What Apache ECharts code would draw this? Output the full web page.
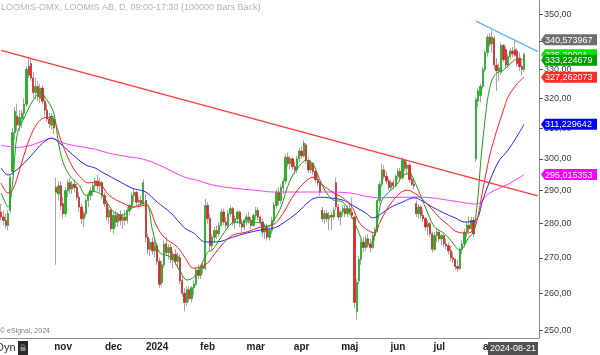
<!DOCTYPE html>
<html><head><meta charset="utf-8">
<script src="https://cdn.jsdelivr.net/npm/echarts@6/dist/echarts.min.js"></script>
<style>html,body{margin:0;padding:0;background:#fff}#c{width:600px;height:355px}</style>
</head><body><div id="c"></div>
<script>
// ---- categories (trading days, Nasdaq Stockholm) ----
const holidays = ['2023-12-25','2023-12-26','2024-01-01','2024-03-29','2024-04-01','2024-05-01','2024-05-09','2024-06-06','2024-06-21'];
const firstDay = '2023-09-25';
const slotCount = 235;
const monthNames = ['jan','feb','mar','apr','maj','jun','jul','aug','sep','okt','nov','dec'];
const yTicks = [250,260,270,280,290,300,310,320,330,340,350];
const yMinPrice = 247.9, yMaxPrice = 355.3;

// ---- daily bars: [open, high, low, close] ----
const ohlc = [
[283.5,286,281,282],[282,284,279.5,281],[281,283,278.5,279.5],[279.5,284,278,283],[284,295,283,294],
[296,310,295,308.5],[308.5,317,306,315.5],[314,318,309,311],[311,316,309,313.5],[313,316,310,315],
[315,320,313,318],[318,331,317,330],[331,334.5,327,328],[332,334,326,327],[327,329,320,322],
[322,327,319.5,324],[324,326,319,320.5],[320,325,318.5,323.5],[323.5,324.5,318,319],[319,321,314,316],
[316,318,312,313],[313,315,310,311.5],[311,315,309.5,314],[313,314,308,310],[291,294,268,289.5],
[289,293,287,291.5],[291.5,293,284,285.5],[286,288,281.5,283],[283,291,282,290],[290,293.5,288,292.5],
[292.5,294,289,290.5],[290.5,293,289,292],[292,293.5,289.5,291],[291,292,287,288],[288,289.5,283.5,285],
[285,286,280,281.5],[281.5,284,279,283],[283,287.5,282,287],[287,289.5,285,288.5],[288.5,291,287,290],
[290,292.5,288.5,291.5],[291.5,294,290,293],[293,295,290,291.5],[291.5,294,289.5,292.5],[292.5,293,287.5,288.5],
[288.5,289.5,285,286],[286,287,281,282],[282,285,280,284],[284,285,277.5,278.5],[278.5,283.5,277,282.5],
[282.5,284,279,280.5],[280.5,283.5,279,282.5],[282.5,284,279.5,281],[281,283,278.5,282],[282,284,279.5,281],
[281,285,280,284],[284,286,282.5,285.5],[285.5,289.5,284.5,288.5],[288.5,290.5,286.5,289.5],[289.5,290,285.5,286.5],
[286.5,288,284.5,287],[287,288.5,285,286],[286,293.5,285.5,292.5],[287,289,274.5,276],[276,277,271,272.5],
[272.5,275.5,270.5,274.5],[274.5,276,271,272],[272,275,270,273.5],[273.5,274.5,268,269],[269,270,261.5,262.5],
[263,269,262,268],[268,275,267,274],[274,276,270.5,271.5],[271.5,274,269.5,273],[273,274,268.5,269.5],
[269.5,272,267,271],[271,272.5,268,269],[269,271.5,267,270.5],[270,271,262.5,263.5],[263.5,265,259,260],
[260,261.5,255,257.5],[257.5,262,256.5,261],[261,262,257.5,258.5],[258.5,262,257.5,261.5],[261.5,263.5,259.5,262.5],
[262.5,267.5,262,266.5],[266.5,268,264,265],[265,268,264,267.5],[267.5,269,265.5,267],[267,287.5,266.5,285.5],
[285.5,286.5,280,281.5],[281.5,283,272,273.5],[273.5,277,272,276],[276,279,274.5,278],[278,279.5,275.5,277],
[277,280.5,276,279.5],[279.5,284.5,279,283.5],[283.5,284.5,279.5,280.5],[280.5,282,278.5,279.5],[279.5,284,278.5,283],
[283,285.5,282,284.5],[284.5,285,279.5,280.5],[280.5,282.5,278.5,281.5],[281.5,284,280,283.5],[283.5,284,279,280],
[280,281.5,277.5,279],[279,281.5,278,281],[281,283,279.5,282],[282,283.5,280,281],[281,282,278.5,279.5],
[279.5,283,279,282.5],[282.5,285,281,284],[284,285,281,282],[282,282.5,279.5,280.5],[280.5,281.5,276,277.5],
[277.5,280,275.5,279],[279,280,275,276],[276,279,275,278],[278,282,277,281],[281,286.5,280,285.5],
[285.5,290.5,284.5,289.5],[289.5,291,285.5,287],[287,292,286,291],[291,294,289,293],[293,301.5,292,300.5],
[300.5,302,297.5,298.5],[298.5,301,296.5,300],[300,300.5,296.5,297.5],[297.5,299,295,296.5],[296.5,301,295.5,300],
[300,303.5,299,302.5],[302.5,304,300,301],[301,306,300.5,305],[304.5,305,298.5,299.5],[299.5,300.5,295.5,296.5],
[296.5,299.5,295.5,298.5],[298.5,299,295,296],[296,296.5,292.5,293.5],[293.5,295,291.5,292.5],[292.5,293,288.5,289.5],
[284,285,280.5,281.5],[281.5,284,280,283],[283,284,280.5,281.5],[281.5,283.5,278,282.5],[282.5,283.5,278,282],
[282,285,281,284],[292.5,294,284,285],[285,286,281,282],[282,284,279.5,283.5],[283.5,285.5,282.5,284.5],
[284.5,285.5,282,283],[283,285.5,282,284.5],[284.5,286.5,282.5,283.5],[283.5,288,281.5,282.5],[282,282.5,256,257.5],
[255,264,252.8,263],[263.5,270.5,262.5,269.5],[269.5,275.5,268,274.5],[274.5,276,271.5,273],[273,276.5,272,275.5],
[275.5,277,273,274],[274,275.5,271.5,273],[273,277,272.5,276.5],[276.5,279,275,278],[278,287.5,277.5,287],
[287,293,286,292],[292,298.5,291,296.5],[296.5,298,293.5,294.5],[294.5,296,292,293],[293,294,290,291],
[291,293.5,290,292.5],[292.5,293.5,290.5,291.5],[291.5,295,291,294.5],[294.5,297,293.5,296],[296,297,293,294],
[294,300.5,293.5,299.5],[299.5,300,296,297],[297,299,295,298],[298,298.5,292.5,293.5],[293.5,295.5,291.5,292],
[292,294,290.5,291.5],[286,287,282,283],[283,286,281.5,285],[285,285.5,281.5,282.5],[282.5,284,280.5,281.5],
[281.5,282,278,279],[279,281,276.5,280],[280,280.5,276,277],[277,277.5,271.5,272.5],[272.5,277.5,272,276.5],
[276.5,278.5,274.5,277.5],[277.5,278,274.5,275.5],[275.5,277,273.5,276.5],[276.5,277,273,274],[274,275.5,272.5,273.5],
[273.5,274.5,271,272],[272,273.5,269,270],[270,271.5,268.5,269.5],[269.5,270,266.5,267.5],[267.5,269.5,266,267],
[267,273,266.5,272.5],[272.5,275,271,274],[274,278.5,273,277.5],[277.5,280.5,276,279.5],[279.5,282,277.5,278.5],
[278.5,282,277.5,281],[281,282,276,277],[300,320.5,299,319.5],[319,323.5,317,322.5],[321,325,318.5,324],
[324,331,323,330],[330,337,329,336],[336,342.5,334.5,341.5],[341.5,343,338,339],[339,344,336,341.5],
[341,342,330,331.5],[331.5,334,322.5,329.5],[329.5,332,326,330.5],[329,339.5,328,338.5],[338.5,339,332.5,333.5],
[337,338,330.5,331.5],[331.5,335.5,330.5,334.5],[334.5,337.5,333.5,336.5],[336.5,338,334.5,335.5],[337,340.5,334.5,335],
[336.5,337.5,331,332],[334,336,329.5,331],[331,333,328,330],[330,336,329,335.20001]
];

// ---- moving averages: [bar index, value] ----
const maGreen = [[0,289.3],[3,285.0],[5,292.4],[7,308.0],[10,313.3],[14,319.4],[17,321.8],[20,319.4],[23,314.9],[25,305.1],[27,298.9],[30,294.6],[34,291.6],[37,288.6],[40,289.8],[44,288.6],[49,283.5],[53,282.6],[57,284.7],[63,286.2],[66,278.1],[69,271.6],[74,270.2],[78,266.2],[81,263.7],[84,264.5],[87,267.6],[90,271.6],[92,272.2],[95,275.1],[98,278.1],[101,280.2],[107,280.5],[113,280.2],[116,279.0],[119,281.1],[122,285.0],[126,293.3],[130,297.7],[133,299.6],[136,298.3],[139,293.3],[142,289.2],[145,287.1],[149,286.5],[153,281.9],[156,277.2],[159,273.3],[162,275.1],[164,280.2],[166,287.1],[170,290.2],[173,292.4],[175,294.6],[178,295.4],[180,293.3],[183,288.3],[186,283.2],[189,279.0],[193,277.2],[196,275.1],[200,272.2],[204,276.0],[206,277.5],[207,282.6],[208,288.9],[209,298.3],[210,306.1],[211,313.0],[212,319.4],[213,323.4],[214,326.3],[216,328.7],[219,329.7],[222,332.0],[225,333.6],[228,333.224679]];
const maRed = [[0,292.4],[3,289.3],[5,290.2],[8,296.4],[11,303.7],[14,309.3],[17,312.6],[20,313.6],[23,312.6],[26,306.1],[29,300.6],[32,296.4],[35,293.9],[38,292.4],[41,292.7],[43,292.4],[47,288.6],[53,286.2],[58,285.0],[63,285.6],[68,279.0],[71,276.0],[77,273.0],[80,270.2],[84,267.0],[90,268.5],[92,270.2],[97,274.3],[101,276.6],[107,277.5],[113,279.0],[119,279.9],[123,283.2],[127,288.0],[132,292.4],[136,294.2],[140,291.8],[145,289.3],[149,287.8],[153,285.0],[156,280.5],[159,278.4],[163,277.2],[165,280.2],[168,284.1],[171,287.1],[174,289.3],[177,290.2],[180,289.3],[183,287.8],[187,285.0],[191,281.9],[195,279.6],[198,277.8],[202,277.2],[205,277.5],[207,279.6],[210,290.2],[213,301.0],[216,309.0],[219,316.0],[221,320.4],[225,325.0],[228,327.262073]];
const maBlue = [[0,297.1],[3,294.9],[5,295.5],[10,298.6],[14,301.8],[18,305.0],[22,306.7],[25,305.4],[29,302.8],[33,300.2],[37,298.0],[41,297.1],[44,295.8],[52,292.7],[57,290.8],[63,289.6],[68,286.5],[74,283.2],[80,278.7],[84,277.2],[89,274.6],[94,274.6],[101,276.0],[107,277.2],[113,278.1],[119,278.7],[123,280.2],[129,283.2],[135,287.1],[139,288.0],[143,287.8],[149,287.1],[153,285.6],[159,283.2],[162,281.7],[165,282.6],[170,285.0],[175,286.5],[180,287.8],[183,287.1],[188,285.0],[193,283.2],[198,281.7],[202,280.5],[207,281.1],[210,287.1],[213,293.0],[217,299.3],[221,302.8],[225,307.4],[228,311.229642]];
const maMagenta = [[0,304.4],[7,303.7],[13,304.4],[18,305.7],[22,306.7],[26,305.4],[31,304.4],[41,303.1],[47,301.8],[56,300.6],[62,299.9],[69,298.0],[80,294.2],[85,293.3],[92,291.8],[101,290.8],[110,290.2],[119,289.6],[132,289.6],[142,289.6],[152,289.3],[159,288.3],[165,287.8],[174,288.0],[183,288.0],[191,287.5],[200,286.5],[207,285.9],[213,289.3],[221,292.0],[228,295.015353]];

// ---- trend lines: [bar index, value] ----
const trendRed = [[0,336.7],[234,288.4]];
const trendBlue = [[207,347.4],[234,336.3]];

// ---- price tags on the right axis ----
const tags = [
  {v:340.573967, bg:'#6e6e6e'},
  {v:335.20001, bg:'#00e400'},
  {v:333.224679, bg:'#009e00'},
  {v:327.262073, bg:'#ff2b2b'},
  {v:311.229642, bg:'#0000ff'},
  {v:295.015353, bg:'#ff00ff'}
];

// build categories
const dates = [];
for (let d = new Date(firstDay + 'T00:00:00Z'); dates.length < slotCount; d.setUTCDate(d.getUTCDate() + 1)) {
  const wd = d.getUTCDay(); const s = d.toISOString().slice(0, 10);
  if (wd === 0 || wd === 6 || holidays.includes(s)) continue;
  dates.push(s);
}
const isMonthStart = (i) => i > 0 && dates[i] && dates[i].slice(5, 7) !== dates[i - 1].slice(5, 7);

const L = Math.log;
const wickData = ohlc.map(([o, h, l, c]) => [L(o), L(c), L(l), L(h)]);
const bodyData = ohlc.map(([o, h, l, c]) => [L(o), L(c), L(Math.min(o, c)), L(Math.max(o, c))]);
const toLine = arr => arr.map(([i, v]) => [i, L(v)]);
const FONT = 'Liberation Sans, Arial, sans-serif';

const chart = echarts.init(document.getElementById('c'), null, {renderer: 'canvas'});
const maLine = (data, color) => ({type: 'line', data: toLine(data), showSymbol: false, smooth: 0.35, silent: true,
  lineStyle: {color, width: 1}, z: 4});

chart.setOption({
  animation: false,
  backgroundColor: '#ffffff',
  grid: {left: 0, right: 61, top: 0, bottom: 17, containLabel: false},
  xAxis: {
    type: 'category', data: dates, boundaryGap: true,
    axisLine: {lineStyle: {color: '#8c8c8c', width: 1}},
    axisTick: {alignWithLabel: true, interval: isMonthStart, length: 3, lineStyle: {color: '#777'}},
    axisLabel: {interval: isMonthStart, margin: 4, fontSize: 10, fontWeight: 'bold', color: '#222', fontFamily: FONT,
      formatter: v => { const m = +v.slice(5, 7); return m === 1 ? v.slice(0, 4) : monthNames[m - 1]; }},
    splitLine: {show: false}
  },
  yAxis: {
    type: 'value', position: 'right', min: L(yMinPrice), max: L(yMaxPrice),
    axisLine: {show: true, lineStyle: {color: '#8c8c8c', width: 1}},
    axisTick: {show: true, length: 4, customValues: yTicks.map(L), lineStyle: {color: '#555'}},
    axisLabel: {customValues: yTicks.map(L), margin: 5, fontSize: 9, color: '#3a3a3a', fontFamily: FONT,
      formatter: v => Math.round(Math.exp(v)) + ',00'},
    splitLine: {show: false}
  },
  series: [
    {type: 'candlestick', data: wickData, barWidth: '78%', silent: true,
      itemStyle: {color: '#a5a5a5', color0: '#a5a5a5', borderColor: '#a5a5a5', borderColor0: '#a5a5a5', borderWidth: 1}, z: 2},
    {type: 'candlestick', data: bodyData, barWidth: '78%', silent: true,
      itemStyle: {color: '#1fb41f', color0: '#e02525', borderColor: '#1fb41f', borderColor0: '#e02525', borderWidth: 0.6}, z: 3},
    maLine(maMagenta, '#ff3cff'),
    maLine(maBlue, '#2626ff'),
    maLine(maRed, '#ff2020'),
    maLine(maGreen, '#1c9e1c'),
    {type: 'line', data: toLine(trendRed), showSymbol: false, silent: true, lineStyle: {color: '#ff3a3a', width: 1.3}, z: 5},
    {type: 'line', data: toLine(trendBlue), showSymbol: false, silent: true, lineStyle: {color: '#5ab6ee', width: 1.3}, z: 5}
  ]
});

// overlays: title, tags, date box
const graphics = [];
graphics.push({type: 'text', x: 1, y: 8, z: 50, style: {text: 'LOOMIS-OMX, LOOMIS AB, D, 09:00-17:30 (100000 Bars Back)',
  fill: '#b3b3b3', font: '9px ' + FONT, verticalAlign: 'middle', textVerticalAlign: 'middle'}});
graphics.push({type: 'text', x: 0, y: 331.5, z: 50, style: {text: '© eSignal, 2024', fill: '#7c7c7c', font: '7px ' + FONT,
  verticalAlign: 'middle', textVerticalAlign: 'middle'}});
graphics.push({type: 'rect', x: -2, y: 340, z: 50, shape: {width: 20, height: 15}, style: {fill: '#fff'}});
graphics.push({type: 'text', x: -4, y: 348, z: 51, style: {text: 'Dyn', fill: '#333', font: '11px ' + FONT,
  verticalAlign: 'middle', textVerticalAlign: 'middle'}});
graphics.push({type: 'rect', x: 18, y: 341, z: 51, shape: {width: 10, height: 14}, style: {fill: '#2a2a2a'}});
graphics.push({type: 'rect', x: 20.5, y: 347, z: 52, shape: {width: 5, height: 4}, style: {fill: '#8a8a8a'}});
graphics.push({type: 'arc', x: 0, y: 0, z: 52, shape: {cx: 23, cy: 346.5, r: 1.8, startAngle: Math.PI, endAngle: 0},
  style: {stroke: '#8a8a8a', fill: null, lineWidth: 1}});
graphics.push({type: 'rect', x: 488, y: 342, z: 50, shape: {width: 50, height: 13}, style: {fill: '#505050'}});
graphics.push({type: 'text', x: 513, y: 348.5, z: 51, style: {text: dates[ohlc.length - 1], fill: '#fff', font: '9px ' + FONT,
  align: 'center', textAlign: 'center', verticalAlign: 'middle', textVerticalAlign: 'middle'}});
tags.forEach((t, k) => {
  const py = chart.convertToPixel({yAxisIndex: 0}, L(t.v));
  graphics.push({type: 'group', x: 541, y: py, z: 60 + k, children: [
    {type: 'polygon', z: 60 + k, shape: {points: [[0, 0], [4, -5.5], [56, -5.5], [56, 5.5], [4, 5.5]]}, style: {fill: t.bg}},
    {type: 'text', z: 60 + k, x: 4, y: 0.5, style: {text: String(t.v).replace('.', ','), fill: '#fff', font: '9px ' + FONT,
      verticalAlign: 'middle', textVerticalAlign: 'middle'}}
  ]});
});
chart.setOption({graphic: graphics});
</script>
</body></html>
